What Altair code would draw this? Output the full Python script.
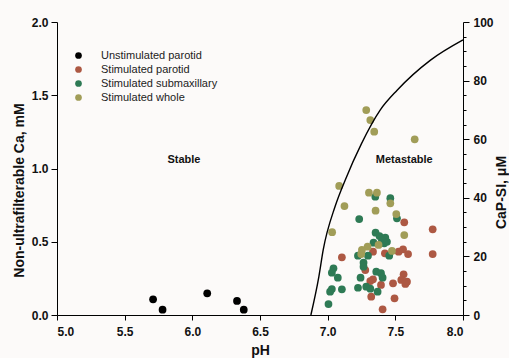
import altair as alt
import pandas as pd

FONT = "Liberation Sans"

groups = ["Unstimulated parotid", "Stimulated parotid", "Stimulated submaxillary", "Stimulated whole"]
colors = ["#000000", "#ad5843", "#2e7a55", "#a19d58"]

unstim_ph = [5.71, 5.78, 6.11, 6.33, 6.38]
unstim_ca = [0.107, 0.036, 0.148, 0.096, 0.036]

parotid_ph = [7.566, 7.776, 7.335, 7.423, 7.524, 7.557, 7.594, 7.776, 7.105, 7.278, 7.561,
              7.335, 7.544, 7.586, 7.574, 7.483, 7.315, 7.394, 7.322, 7.494, 7.406]
parotid_ca = [0.633, 0.585, 0.432, 0.421, 0.432, 0.448, 0.416, 0.416, 0.394, 0.307, 0.278,
              0.244, 0.239, 0.227, 0.212, 0.216, 0.232, 0.205, 0.125, 0.114, 0.039]

submax_ph = [7.352, 7.463, 7.512, 7.233, 7.354, 7.383, 7.426, 7.438, 7.339, 7.401, 7.418,
             7.455, 7.224, 7.298, 7.265, 7.265, 7.043, 7.031, 7.359, 7.394, 7.075, 7.243,
             7.406, 7.031, 7.018, 7.105, 7.224, 7.285, 7.315, 7.369, 7.006]
submax_ca = [0.808, 0.797, 0.660, 0.655, 0.562, 0.539, 0.528, 0.500, 0.494, 0.507, 0.489,
             0.405, 0.405, 0.405, 0.357, 0.330, 0.319, 0.289, 0.296, 0.285, 0.255, 0.255,
             0.255, 0.177, 0.159, 0.175, 0.186, 0.193, 0.180, 0.159, 0.075]

whole_ph = [7.285, 7.315, 7.344, 7.643, 7.085, 7.305, 7.364, 7.463, 7.124, 7.354, 7.507,
            7.566, 7.033, 7.376, 7.295, 7.253, 7.248, 7.475]
whole_ca = [1.399, 1.331, 1.251, 1.199, 0.881, 0.835, 0.835, 0.762, 0.744, 0.712, 0.689,
            0.546, 0.565, 0.478, 0.466, 0.444, 0.416, 0.437]

curve_ph = [6.876, 6.935, 6.967, 7.056, 7.13, 7.25, 7.389, 7.515, 7.76, 8.0]
curve_si = [0.0, 13.1, 22.2, 37.2, 46.1, 58.5, 70.0, 76.8, 87.0, 93.9]

region_labels = ["Stable", "Metastable"]
region_ph = [5.938, 7.566]
region_ca = [1.058, 1.058]

x_ticks = [5.0, 5.5, 6.0, 6.5, 7.0, 7.5, 8.0]
y_ticks = [0.0, 0.5, 1.0, 1.5, 2.0]
si_ticks = list(range(0, 101, 5))

rows = []
for g, xs, ys in zip(groups, [unstim_ph, parotid_ph, submax_ph, whole_ph],
                     [unstim_ca, parotid_ca, submax_ca, whole_ca]):
    for a, b in zip(xs, ys):
        rows.append({"group": g, "pH": a, "Ca": b})
pts = pd.DataFrame(rows)
curve = pd.DataFrame({"pH": curve_ph, "SI": curve_si})
labels = pd.DataFrame({"label": region_labels, "pH": region_ph, "Ca": region_ca})

xscale = alt.Scale(domain=[5, 8], nice=False, zero=False)
xaxis = alt.Axis(values=x_ticks, format=".1f", title="pH", grid=False, tickSize=5,
                 labelPadding=6, titlePadding=6)
yscale = alt.Scale(domain=[0, 2], nice=False)

points = alt.Chart(pts).mark_circle(size=60, opacity=1).encode(
    x=alt.X("pH:Q", scale=xscale, axis=xaxis),
    y=alt.Y("Ca:Q", scale=yscale,
            axis=alt.Axis(orient="left", values=y_ticks, format=".1f", grid=False,
                          title="Non-ultrafilterable Ca, mM", tickSize=6, labelPadding=3,
                          titleAngle=270, titleX=-38, titleY=168,
                          titleAlign="center", titleBaseline="middle")),
    color=alt.Color("group:N", scale=alt.Scale(domain=groups, range=colors),
                    sort=groups,
                    legend=alt.Legend(title=None, orient="none", legendX=16, legendY=28,
                                      symbolSize=45, symbolType="circle",
                                      labelFont=FONT, labelFontSize=11,
                                      labelColor="#222222", labelOffset=17,
                                      rowPadding=2, padding=0)),
)

texts = alt.Chart(labels).mark_text(font=FONT, fontSize=11, fontWeight="bold",
                                    color="#111111").encode(
    x=alt.X("pH:Q", scale=xscale),
    y=alt.Y("Ca:Q", scale=yscale),
    text="label:N",
)

left = alt.layer(points, texts)

line = alt.Chart(curve).mark_line(color="#000000", strokeWidth=1.4,
                                  interpolate="monotone").encode(
    x=alt.X("pH:Q", scale=xscale),
    y=alt.Y("SI:Q", scale=alt.Scale(domain=[0, 100], nice=False),
            axis=alt.Axis(orient="right", values=si_ticks, grid=False,
                          title="CaP-SI, μM", titleAngle=270, titleX=38, titleY=170,
                          titleAlign="center", titleBaseline="middle",
                          labelExpr="datum.value % 20 === 0 ? datum.label : ''",
                          tickSize={"condition": {"test": "datum.value % 20 === 0", "value": 6},
                                    "value": 3},
                          labelPadding=4)),
)

chart = alt.layer(left, line).resolve_scale(y="independent").properties(
    width=406, height=293,
    autosize=alt.AutoSizeParams(type="none"),
    padding={"left": 57, "top": 22, "right": 46, "bottom": 43},
    background="#fcfaf9",
).configure_view(stroke=None).configure_axis(
    domainColor="#000000", tickColor="#000000", domainWidth=1, tickWidth=1,
    labelFont=FONT, labelFontSize=12, labelFontWeight="bold", labelColor="#111111",
    titleFont=FONT, titleFontSize=14, titleFontWeight="bold", titleColor="#111111",
)

chart.save("out.html", embed_options={"renderer": "svg", "actions": False})
